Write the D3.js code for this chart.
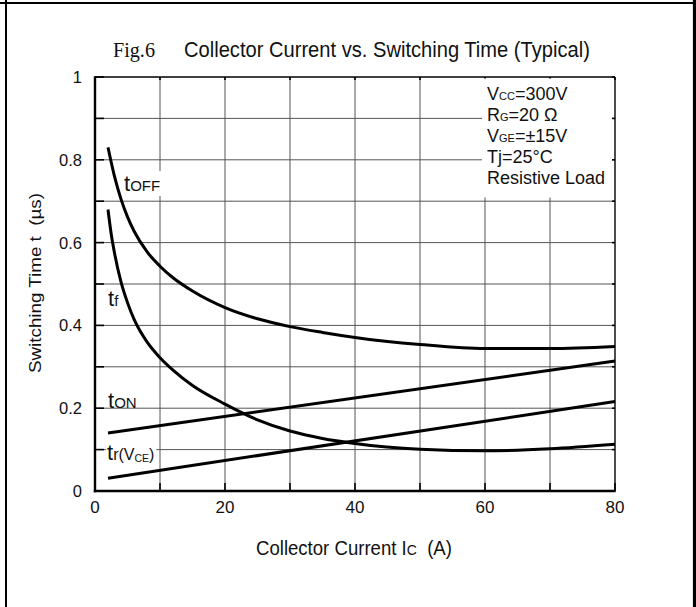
<!DOCTYPE html>
<html>
<head>
<meta charset="utf-8">
<script src="https://cdn.jsdelivr.net/npm/d3@7"></script>
<style>
  html, body { margin: 0; padding: 0; background: #fff; }
  svg { display: block; }
  text { font-family: Arial, "Liberation Sans", Helvetica, sans-serif; fill: #111; }
</style>
</head>
<body>
<svg id="chart" width="696" height="607"></svg>
<script>
// Collector current (A) and switching times (µs) per curve
const tOffCurrent = [2, 3, 4, 5, 6, 8, 10, 12, 15, 20, 25, 30, 35, 40, 50, 60, 70, 80];
const tOffTime    = [0.83, 0.76, 0.705, 0.662, 0.628, 0.578, 0.543, 0.515, 0.483, 0.443, 0.416, 0.397, 0.383, 0.371, 0.354, 0.344, 0.344, 0.349];

const tfCurrent = [2, 2.5, 3, 4, 5, 6, 8, 10, 12, 15, 20, 25, 30, 35, 40, 50, 60, 70, 80];
const tfTime    = [0.68, 0.62, 0.575, 0.505, 0.455, 0.415, 0.36, 0.322, 0.292, 0.255, 0.21, 0.172, 0.145, 0.127, 0.115, 0.101, 0.097, 0.102, 0.113];

const tOnCurrent = [2, 80];
const tOnTime    = [0.14, 0.314];

const trCurrent = [2, 80];
const trTime    = [0.031, 0.216];

const xTickLabels = [0, 20, 40, 60, 80];
const yTickLabels = [0, 0.2, 0.4, 0.6, 0.8, 1];

const svg = d3.select("#chart");

// page frame
svg.append("line").attr("x1", 0).attr("x2", 693).attr("y1", 3).attr("y2", 3)
  .attr("stroke", "#000").attr("stroke-width", 2);
svg.append("line").attr("x1", 6).attr("x2", 6).attr("y1", 0).attr("y2", 607)
  .attr("stroke", "#000").attr("stroke-width", 2);
svg.append("line").attr("x1", 694.5).attr("x2", 694.5).attr("y1", 0).attr("y2", 607)
  .attr("stroke", "#000").attr("stroke-width", 3.2);

// text squeezed horizontally to a given width, starting at (x0, baseline)
function squeezedText(x0, baseline, width, size, parts, family) {
  const g = svg.append("g");
  const t = g.append("text").attr("x", 0).attr("y", 0).attr("xml:space", "preserve")
    .style("font-size", size + "px");
  if (family) t.style("font-family", family);
  parts.forEach(p => {
    const s = t.append("tspan").text(p.text);
    if (p.size) s.style("font-size", p.size + "px");
  });
  const w = t.node().getComputedTextLength();
  g.attr("transform", `translate(${x0},${baseline}) scale(${width / w},1)`);
  return g;
}

// title
squeezedText(113, 57, 42, 22, [{ text: "Fig.6" }], "'Liberation Serif', 'Times New Roman', serif");
squeezedText(184, 57, 406, 22, [{ text: "Collector Current vs. Switching Time (Typical)" }]);

const plotLeft = 95, plotRight = 615, plotTop = 77, plotBottom = 491;
const x = d3.scaleLinear().domain([0, 80]).range([plotLeft, plotRight]);
const y = d3.scaleLinear().domain([0, 1]).range([plotBottom, plotTop]);

// grid
const grid = svg.append("g").attr("stroke", "#555").attr("stroke-width", 1);
d3.range(10, 80, 10).forEach(v => {
  grid.append("line").attr("x1", x(v)).attr("x2", x(v)).attr("y1", plotTop).attr("y2", plotBottom);
});
d3.range(1, 10).forEach(i => {
  const v = i / 10;
  grid.append("line").attr("x1", plotLeft).attr("x2", plotRight).attr("y1", y(v)).attr("y2", y(v));
});

// inward ticks on all four sides
const ticks = svg.append("g").attr("stroke", "#000").attr("stroke-width", 1.6);
d3.range(0, 11).forEach(i => {
  const v = i / 10;
  ticks.append("line").attr("x1", plotLeft).attr("x2", plotLeft + 9).attr("y1", y(v)).attr("y2", y(v));
  ticks.append("line").attr("x1", plotRight).attr("x2", plotRight - 3).attr("y1", y(v)).attr("y2", y(v));
});
d3.range(0, 90, 10).forEach(v => {
  ticks.append("line").attr("x1", x(v)).attr("x2", x(v)).attr("y1", plotBottom).attr("y2", plotBottom - 8);
  ticks.append("line").attr("x1", x(v)).attr("x2", x(v)).attr("y1", plotTop).attr("y2", plotTop + 3);
});

// plot frame: heavy left/bottom, lighter top/right
svg.append("line").attr("x1", plotLeft).attr("x2", plotRight).attr("y1", plotTop).attr("y2", plotTop)
  .attr("stroke", "#000").attr("stroke-width", 1.6);
svg.append("line").attr("x1", plotRight).attr("x2", plotRight).attr("y1", plotTop).attr("y2", plotBottom)
  .attr("stroke", "#000").attr("stroke-width", 1.4);
svg.append("line").attr("x1", plotLeft).attr("x2", plotLeft).attr("y1", plotTop - 0.8).attr("y2", plotBottom + 1.2)
  .attr("stroke", "#000").attr("stroke-width", 2.4);
svg.append("line").attr("x1", plotLeft - 1.2).attr("x2", plotRight + 0.7).attr("y1", plotBottom).attr("y2", plotBottom)
  .attr("stroke", "#000").attr("stroke-width", 2.4);

// tick labels
svg.append("g").selectAll("text").data(yTickLabels).join("text")
  .attr("x", plotLeft - 13).attr("y", d => y(d)).attr("dy", "0.36em")
  .attr("text-anchor", "end").style("font-size", "16.5px")
  .text(d => d3.format("~g")(d));
svg.append("g").selectAll("text").data(xTickLabels).join("text")
  .attr("x", d => x(d)).attr("y", 512.5)
  .attr("text-anchor", "middle").style("font-size", "17px")
  .text(d => d);

// axis titles
squeezedText(256, 554.5, 196, 20, [
  { text: "Collector Current I" }, { text: "C", size: 15 }, { text: "  (A)" }
]);

svg.append("text").attr("transform", "translate(41,283) rotate(-90)")
  .attr("text-anchor", "middle").style("font-size", "16.5px")
  .attr("xml:space", "preserve")
  .attr("textLength", 180).attr("lengthAdjust", "spacingAndGlyphs")
  .text("Switching Time t  (µs)");

// curves
const line = d3.line().x(d => x(d[0])).y(d => y(d[1])).curve(d3.curveMonotoneX);
const series = [
  d3.zip(tOffCurrent, tOffTime),
  d3.zip(tfCurrent, tfTime),
  d3.zip(tOnCurrent, tOnTime),
  d3.zip(trCurrent, trTime)
];
svg.append("g").selectAll("path").data(series).join("path")
  .attr("d", line).attr("fill", "none").attr("stroke", "#000")
  .attr("stroke-width", 3).attr("stroke-linecap", "butt");

// text with an optional white backing box
function labelled(xPos, yPos, parts, pad) {
  const g = svg.append("g");
  const rect = g.append("rect").attr("fill", "#fff");
  const t = g.append("text").attr("x", xPos).attr("y", yPos).attr("xml:space", "preserve");
  parts.forEach(p => {
    const s = t.append("tspan").style("font-size", p.size + "px").text(p.text);
    if (p.dy) s.attr("dy", p.dy);
  });
  if (pad) {
    const b = t.node().getBBox();
    rect.attr("x", b.x - pad[0]).attr("y", b.y - pad[1])
      .attr("width", b.width + pad[0] + pad[2]).attr("height", b.height + pad[1] + pad[3]);
  }
  return g;
}

// curve labels
labelled(124, 191, [{ text: "t", size: 22 }, { text: "OFF", size: 15 }], [1, 0, 1, 0]);
labelled(108, 306, [{ text: "t", size: 22 }, { text: "f", size: 15 }], [1, 0, 1, 0]);
labelled(108, 408, [{ text: "t", size: 22 }, { text: "ON", size: 15 }], null);
labelled(107, 460, [
  { text: "t", size: 22 }, { text: "r(V", size: 16 },
  { text: "CE", size: 10.5, dy: 2 }, { text: ")", size: 16, dy: -2 }
], [1, -2, 2, -4]);

// test-condition block
const conds = [
  [{ text: "V", size: 18 }, { text: "CC", size: 11 }, { text: "=300V", size: 18 }],
  [{ text: "R", size: 18 }, { text: "G", size: 11 }, { text: "=20 Ω", size: 18 }],
  [{ text: "V", size: 18 }, { text: "GE", size: 11 }, { text: "=±15V", size: 18 }],
  [{ text: "Tj=25°C", size: 18 }],
  [{ text: "Resistive Load", size: 18 }]
];
svg.append("rect").attr("fill", "#fff")
  .attr("x", 482).attr("y", plotTop + 1.5).attr("width", plotRight - 3 - 482).attr("height", 196 - plotTop);
const condText = svg.append("g");
conds.forEach((parts, i) => {
  const t = condText.append("text").attr("x", 487).attr("y", 100 + i * 21.05).attr("xml:space", "preserve");
  parts.forEach(p => t.append("tspan").style("font-size", p.size + "px").text(p.text));
});
</script>
</body>
</html>
